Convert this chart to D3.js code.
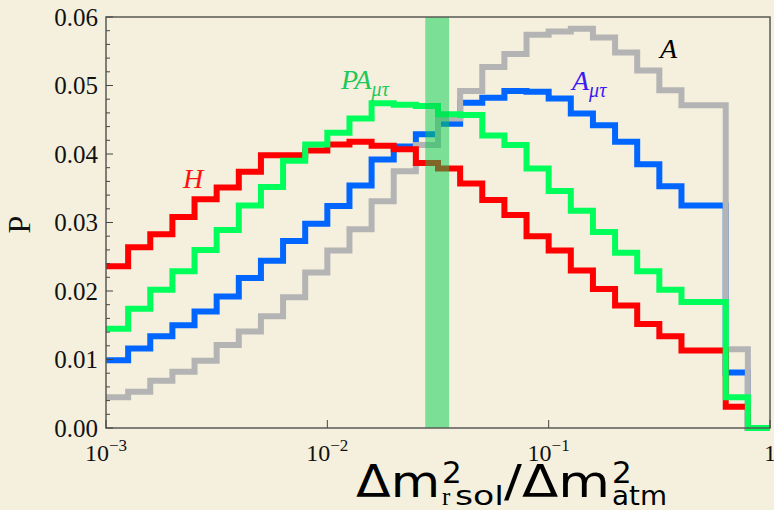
<!DOCTYPE html>
<html>
<head>
<meta charset="utf-8">
<script src="https://cdn.jsdelivr.net/npm/d3@7"></script>
<style>
  html, body { margin: 0; padding: 0; background: #f5f0dd; }
  svg { display: block; }
</style>
</head>
<body>
<div id="chart"></div>
<script>
// bin edges: exponents of 10, ten bins per decade from 1e-3 to 1
const binExponents = d3.range(-3, 0.001, 0.1)
const xTicks = [1e-3, 1e-2, 1e-1, 1]
const xTickLabels = [["10", "\u22123"], ["10", "\u22122"], ["10", "\u22121"], ["1", ""]]
const yTicks = [0, 0.01, 0.02, 0.03, 0.04, 0.05, 0.06]
const yTickLabels = ["0.00", "0.01", "0.02", "0.03", "0.04", "0.05", "0.06"]
const band = [0.0277, 0.0355]

const valuesH = [0.0236, 0.0264, 0.0283, 0.0308, 0.0334, 0.0351, 0.0374, 0.0398, 0.0398, 0.0405,
  0.0414, 0.0418, 0.0412, 0.0407, 0.0387, 0.0379, 0.0357, 0.0333, 0.0311, 0.0280,
  0.0259, 0.0230, 0.0203, 0.0179, 0.0152, 0.0134, 0.0113, 0.0113, 0.0031, 0]
const valuesPA = [0.0145, 0.0174, 0.0202, 0.0229, 0.0260, 0.0289, 0.0325, 0.0352, 0.0390, 0.0414,
  0.0431, 0.0452, 0.0474, 0.0472, 0.0470, 0.0458, 0.0457, 0.0427, 0.0413, 0.0379,
  0.0346, 0.0317, 0.0286, 0.0256, 0.0229, 0.0202, 0.0184, 0.0184, 0.0045, 0]
const valuesAmt = [0.0099, 0.0116, 0.0134, 0.0150, 0.0170, 0.0192, 0.0219, 0.0244, 0.0273, 0.0298,
  0.0324, 0.0354, 0.0392, 0.0411, 0.0429, 0.0444, 0.0475, 0.0482, 0.0492, 0.0491,
  0.0481, 0.0459, 0.0442, 0.0418, 0.0385, 0.0353, 0.0325, 0.0325, 0.0081, 0]
const valuesA = [0.0045, 0.0053, 0.0069, 0.0082, 0.0098, 0.0121, 0.0141, 0.0163, 0.0191, 0.0227,
  0.0259, 0.0290, 0.0331, 0.0375, 0.0413, 0.0452, 0.0492, 0.0527, 0.0546, 0.0574,
  0.0579, 0.0583, 0.0570, 0.0548, 0.0522, 0.0493, 0.0471, 0.0471, 0.0115, 0]

const width = 774
const height = 510
const margin = { top: 17, right: 4, bottom: 82, left: 106 }

const svg = d3.select("#chart")
  .append("svg")
  .attr("width", width)
  .attr("height", height)

const x = d3.scaleLog()
  .domain([1e-3, 1])
  .range([margin.left, width - margin.right])

const y = d3.scaleLinear()
  .domain([0, 0.06])
  .range([height - margin.bottom, margin.top])

const edges = binExponents.map(e => Math.pow(10, e))

function steps(values) {
  const pts = values.map((v, i) => [edges[i], v])
  pts.push([edges[edges.length - 1], values[values.length - 1]])
  return pts
}

const line = d3.line()
  .x(d => x(d[0]))
  .y(d => y(d[1]))
  .curve(d3.curveStepAfter)

// drawing order: blue, gray, red, green
const series = [
  { values: valuesAmt, color: "#0066ff" },
  { values: valuesA, color: "#b4b4b4" },
  { values: valuesH, color: "#ff0000" },
  { values: valuesPA, color: "#00ff5a" }
]

series.forEach(s => {
  svg.append("path")
    .datum(steps(s.values))
    .attr("fill", "none")
    .attr("stroke", s.color)
    .attr("stroke-width", 6)
    .attr("stroke-linejoin", "miter")
    .attr("d", line)
})

// shaded band
svg.append("rect")
  .attr("x", x(band[0]))
  .attr("width", x(band[1]) - x(band[0]))
  .attr("y", margin.top)
  .attr("height", y(0) - margin.top)
  .attr("fill", "#01ce4e")
  .attr("opacity", 0.5)

// frame
svg.append("rect")
  .attr("x", margin.left)
  .attr("y", margin.top)
  .attr("width", width - margin.right - margin.left)
  .attr("height", y(0) - margin.top)
  .attr("fill", "none")
  .attr("stroke", "#5a5a55")
  .attr("stroke-width", 1.5)

const serif = "'Liberation Serif', 'Times New Roman', serif"

// y ticks
const yMinor = d3.range(0, 0.0601, 0.002)
svg.append("g")
  .selectAll("line")
  .data(yMinor)
  .join("line")
  .attr("x1", margin.left)
  .attr("x2", (d, i) => margin.left + (i % 5 === 0 ? 7 : 4))
  .attr("y1", d => y(d))
  .attr("y2", d => y(d))
  .attr("stroke", "#444")
  .attr("stroke-width", 1)

svg.append("g")
  .selectAll("text")
  .data(yTicks)
  .join("text")
  .attr("x", margin.left - 8)
  .attr("y", d => y(d))
  .attr("dy", "0.35em")
  .attr("text-anchor", "end")
  .attr("font-family", serif)
  .attr("font-size", 25)
  .attr("fill", "#111")
  .text((d, i) => yTickLabels[i])

// x ticks
svg.append("g")
  .selectAll("line")
  .data(xTicks)
  .join("line")
  .attr("x1", d => x(d))
  .attr("x2", d => x(d))
  .attr("y1", y(0))
  .attr("y2", y(0) - 8)
  .attr("stroke", "#444")
  .attr("stroke-width", 1)

const xt = svg.append("g")
  .selectAll("text")
  .data(xTicks)
  .join("text")
  .attr("x", d => x(d))
  .attr("y", y(0) + 33)
  .attr("text-anchor", "middle")
  .attr("font-family", serif)
  .attr("font-size", 24)
  .attr("fill", "#111")
xt.append("tspan").text((d, i) => xTickLabels[i][0])
xt.append("tspan")
  .attr("dy", -10)
  .attr("font-size", 17)
  .text((d, i) => xTickLabels[i][1])

// y axis title
svg.append("text")
  .attr("transform", `translate(30,${(margin.top + y(0)) / 2 + 2}) rotate(-90)`)
  .attr("text-anchor", "middle")
  .attr("font-family", serif)
  .attr("font-size", 32)
  .attr("fill", "#111")
  .text("P")

// x axis title
const sans = "'DejaVu Sans', sans-serif"
const xl = svg.append("g").attr("fill", "#000")
xl.append("text")
  .attr("x", 356).attr("y", 497)
  .attr("font-family", sans).attr("font-size", 44)
  .attr("textLength", 84).attr("lengthAdjust", "spacingAndGlyphs")
  .text("\u0394m")
xl.append("text")
  .attr("x", 442).attr("y", 483)
  .attr("font-family", sans).attr("font-size", 31)
  .text("2")
xl.append("text")
  .attr("x", 442).attr("y", 505)
  .attr("font-family", serif).attr("font-size", 25)
  .text("r")
xl.append("text")
  .attr("x", 455).attr("y", 505)
  .attr("font-family", sans).attr("font-size", 27)
  .attr("textLength", 49).attr("lengthAdjust", "spacingAndGlyphs")
  .text("sol")
xl.append("text")
  .attr("x", 504).attr("y", 497)
  .attr("font-family", sans).attr("font-size", 44)
  .attr("textLength", 106).attr("lengthAdjust", "spacingAndGlyphs")
  .text("/\u0394m")
xl.append("text")
  .attr("x", 612).attr("y", 483)
  .attr("font-family", sans).attr("font-size", 31)
  .text("2")
xl.append("text")
  .attr("x", 612).attr("y", 505)
  .attr("font-family", sans).attr("font-size", 27)
  .attr("textLength", 55).attr("lengthAdjust", "spacingAndGlyphs")
  .text("atm")

// series labels
function label(tx, ty, main, sub, color) {
  const t = svg.append("text")
    .attr("x", tx).attr("y", ty)
    .attr("font-family", serif)
    .attr("font-style", "italic")
    .attr("font-size", 28)
    .attr("fill", color)
  t.append("tspan").text(main)
  if (sub) t.append("tspan").attr("dy", 7).attr("font-size", 20).text(sub)
}
label(183, 188, "H", "", "#ff1010")
label(341, 89, "PA", "\u03bc\u03c4", "#1ec85a")
label(572, 90, "A", "\u03bc\u03c4", "#3b1cf0")
label(660, 58, "A", "", "#000")
</script>
</body>
</html>
